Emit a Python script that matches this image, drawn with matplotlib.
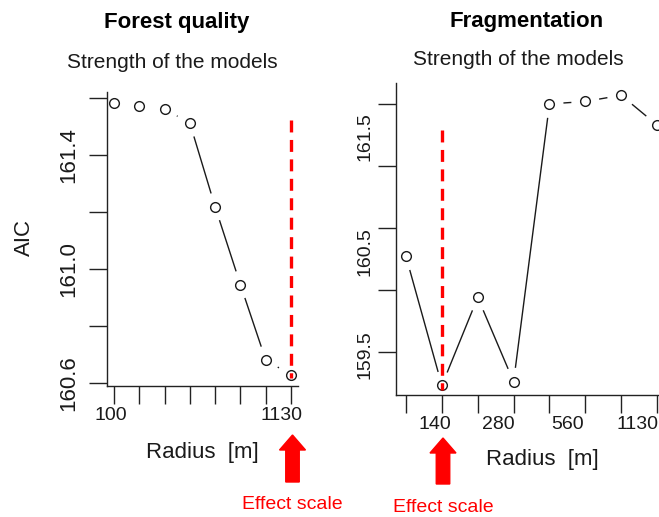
import numpy as np
import matplotlib
matplotlib.use("Agg")
import matplotlib.pyplot as plt
from matplotlib import transforms
from matplotlib.patches import FancyArrow

# ---------------- data ----------------
radius_labels = ["100", "140", "200", "280", "400", "560", "800", "1130"]
forest_aic = [161.583, 161.572, 161.561, 161.512, 161.218, 160.945, 160.681, 160.628]
frag_aic = [160.27, 159.23, 159.94, 159.26, 161.50, 161.52, 161.57, 161.33]
forest_effect = "1130"
frag_effect = "140"

forest_yticks = [160.6, 160.8, 161.0, 161.2, 161.4, 161.6]
forest_ylabels = ["160.6", "161.0", "161.4"]
frag_yticks = [159.5, 160.0, 160.5, 161.0, 161.5]
frag_ylabels = ["159.5", "160.5", "161.5"]
forest_xlabels = ["100", "1130"]
frag_xlabels = ["140", "280", "560", "1130"]

# label placement (as seen in the reference, labels are slightly off the ticks)
forest_ylabel_pos = [160.6, 161.0, 161.4]
frag_ylabel_pos = [159.476, 160.306, 161.234]
forest_xlabel_pos = [-0.12, 6.64]
frag_xlabel_pos = [0.81, 2.56, 4.51, 6.46]

plt.rcParams['font.family'] = ['Liberation Sans', 'DejaVu Sans']
plt.rcParams['lines.scale_dashes'] = False

W, H = 659, 517
fig = plt.figure(figsize=(W / 100, H / 100), dpi=100)
px = transforms.Affine2D().scale(1 / W, 1 / H) + fig.transFigure


def fy(y):
    return H - y


def add_axes(l, r, t, b):
    return fig.add_axes([l / W, (H - b) / H, (r - l) / W, (b - t) / H])


ax1 = add_axes(107, 298, 92, 386)
ax2 = add_axes(396, 675, 83, 395)

x = np.arange(len(radius_labels))

ax1.set_xlim(-0.277, 7.277)
ax1.set_ylim(160.5895, 161.621)
ax2.set_xlim(-0.279, 7.5)
ax2.set_ylim(159.153, 161.669)


def style(ax, yticks, ylabels, ylabpos, xlabels, xlabpos, yfs, xfs, ypad, xpad):
    for s in ["top", "right"]:
        ax.spines[s].set_visible(False)
    for s in ["left", "bottom"]:
        ax.spines[s].set_linewidth(1.0)
        ax.spines[s].set_color("#222222")
    ax.xaxis.remove_overlapping_locs = False
    ax.yaxis.remove_overlapping_locs = False
    ax.set_xticks(x, minor=True)
    ax.set_yticks(yticks, minor=True)
    ax.set_xticks(xlabpos)
    ax.set_xticklabels(xlabels, fontsize=xfs)
    ax.set_yticks(ylabpos)
    ax.set_yticklabels(ylabels, fontsize=yfs, rotation=90, va="center")
    ax.tick_params(which="minor", length=13, width=1.0, color="#222222")
    ax.tick_params(which="major", length=0)
    ax.tick_params(axis="y", which="major", pad=ypad)
    ax.tick_params(axis="x", which="major", pad=xpad)
    ax.tick_params(which="both", labelcolor="#1a1a1a")


style(ax1, forest_yticks, forest_ylabels, forest_ylabel_pos, forest_xlabels,
      forest_xlabel_pos, 16, 14, 20, 15)
style(ax2, frag_yticks, frag_ylabels, frag_ylabel_pos, frag_xlabels,
      frag_xlabel_pos, 14, 14, 16, 15)


def type_b(ax, xs, ys, gap=14.0):
    pts = ax.transData.transform(np.column_stack([xs, ys]))
    inv = ax.transData.inverted()
    for i in range(len(pts) - 1):
        p0, p1 = pts[i], pts[i + 1]
        d = p1 - p0
        L = np.hypot(*d)
        if L > 2 * gap:
            u = d / L
            a = inv.transform(p0 + u * gap)
            b = inv.transform(p1 - u * gap)
            ax.plot([a[0], b[0]], [a[1], b[1]], color="#1a1a1a", lw=1.0,
                    solid_capstyle="butt", clip_on=False, zorder=2)
    ax.plot(xs, ys, linestyle="none", marker="o", ms=7, mfc="none",
            mec="#1a1a1a", mew=1.0, clip_on=False, zorder=3)


type_b(ax1, x, forest_aic)
type_b(ax2, x, frag_aic)

# effect-scale dashed lines
ex1 = radius_labels.index(forest_effect)
ex2 = radius_labels.index(frag_effect)
ax1.plot([ex1, ex1], [0.905, 0.027], transform=ax1.get_xaxis_transform(),
         color="red", lw=2.4, linestyle=(0, (8.6, 5.4)), zorder=4, clip_on=False)
ax2.plot([ex2, ex2], [0.849, 0.016], transform=ax2.get_xaxis_transform(),
         color="red", lw=2.4, linestyle=(0, (8.6, 5.4)), zorder=4, clip_on=False)

# titles and labels
fig.text(177, fy(28), "Forest quality", transform=px, ha="center",
         va="baseline", fontsize=16, fontweight="bold")
fig.text(527, fy(27), "Fragmentation", transform=px, ha="center",
         va="baseline", fontsize=16, fontweight="bold")
fig.text(172, fy(68), "Strength of the models", transform=px, ha="center",
         va="baseline", fontsize=15, color="#1a1a1a")
fig.text(518, fy(65), "Strength of the models", transform=px, ha="center",
         va="baseline", fontsize=15, color="#1a1a1a")
fig.text(24, fy(238), "AIC", transform=px, ha="center", va="center",
         rotation=90, fontsize=16, color="#1a1a1a")
fig.text(202, fy(458), "Radius  [m]", transform=px, ha="center",
         va="baseline", fontsize=16, color="#1a1a1a")
fig.text(542, fy(465), "Radius  [m]", transform=px, ha="center",
         va="baseline", fontsize=16, color="#1a1a1a")
fig.text(292, fy(509), "Effect scale", transform=px, ha="center",
         va="baseline", fontsize=14, color="red")
fig.text(443, fy(512), "Effect scale", transform=px, ha="center",
         va="baseline", fontsize=14, color="red")

# red arrows
for cx, tip, bottom in [(292.5, 435, 482), (443, 438, 484)]:
    arr = FancyArrow(cx, fy(bottom), 0, bottom - tip, width=13.5,
                     head_width=26, head_length=15, length_includes_head=True,
                     color="red", transform=px)
    fig.patches.append(arr)

fig.savefig("out.png", dpi=100)
